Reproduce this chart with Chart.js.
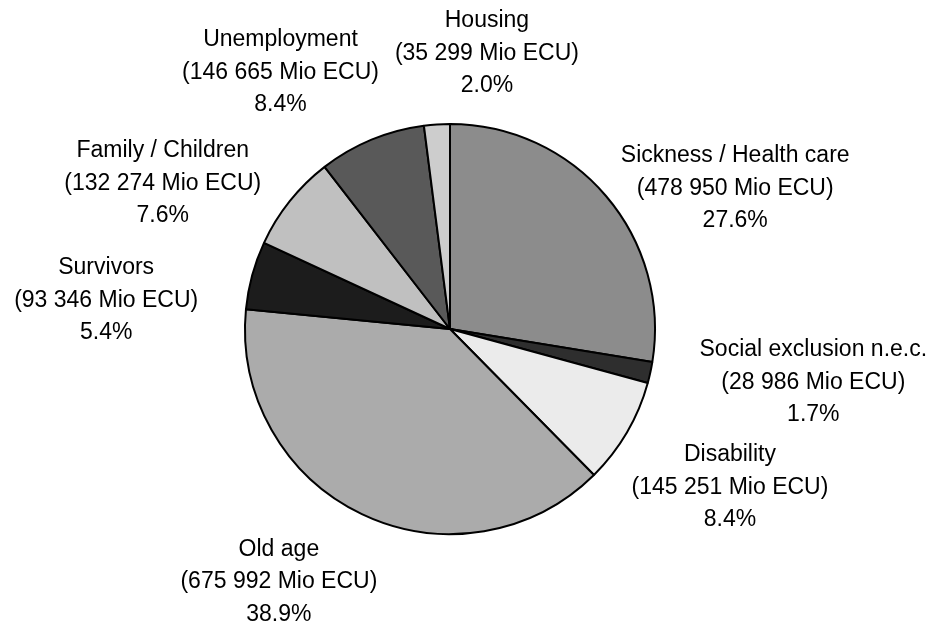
<!DOCTYPE html>
<html>
<head>
<meta charset="utf-8">
<script src="https://cdn.jsdelivr.net/npm/chart.js@4/dist/chart.umd.min.js"></script>
<style>
    html, body { margin: 0; padding: 0; background: #fff; }
    #wrap { width: 936px; height: 638px; position: relative; }
</style>
</head>
<body>
<div id="wrap"><canvas id="pie-chart"></canvas></div>
<script>
// 分類（順時針，從正上方開始）
const categories = [
    'Sickness / Health care', 'Social exclusion n.e.c.', 'Disability', 'Old age',
    'Survivors', 'Family / Children', 'Unemployment', 'Housing'
];
// Mio ECU
const amounts = [478950, 28986, 145251, 675992, 93346, 132274, 146665, 35299];
const percents = ['27.6%', '1.7%', '8.4%', '38.9%', '5.4%', '7.6%', '8.4%', '2.0%'];

const sliceColors = [
    '#8c8c8c', '#2e2e2e', '#ebebeb', '#ababab',
    '#1c1c1c', '#c0c0c0', '#595959', '#cdcdcd'
];

// 標籤中心相對於扇形外緣中點的位移
const labelOffsets = [
    [129, -8], [163, 10], [103, 55], [-83, 68],
    [-146, 25], [-127, -18], [-91, -67], [50, -71]
];

function formatAmount(v) {
    return String(v).replace(/\B(?=(\d{3})+(?!\d))/g, ' ');
}

const outsideLabels = {
    id: 'outsideLabels',
    afterDraw(chart) {
        const { ctx } = chart;
        const meta = chart.getDatasetMeta(0);
        ctx.save();
        ctx.font = '23px "Liberation Sans", Arial, sans-serif';
        ctx.fillStyle = '#000';
        ctx.textAlign = 'center';
        ctx.textBaseline = 'middle';
        meta.data.forEach((arc, i) => {
            const mid = (arc.startAngle + arc.endAngle) / 2;
            const x = arc.x + Math.cos(mid) * arc.outerRadius + labelOffsets[i][0];
            const y = arc.y + Math.sin(mid) * arc.outerRadius + labelOffsets[i][1];
            const lines = [categories[i], `(${formatAmount(amounts[i])} Mio ECU)`, percents[i]];
            lines.forEach((t, k) => ctx.fillText(t, x, y + (k - 1) * 32.5));
        });
        ctx.restore();
    }
};

new Chart(document.getElementById('pie-chart'), {
    type: 'pie',
    data: {
        labels: categories,
        datasets: [{
            data: amounts,
            backgroundColor: sliceColors,
            borderColor: '#000',
            borderWidth: 2
        }]
    },
    options: {
        responsive: true,
        maintainAspectRatio: false,
        animation: false,
        layout: { padding: { left: 244, right: 280, top: 123, bottom: 103 } },
        plugins: {
            legend: { display: false },
            tooltip: { enabled: false }
        }
    },
    plugins: [outsideLabels]
});
</script>
</body>
</html>
